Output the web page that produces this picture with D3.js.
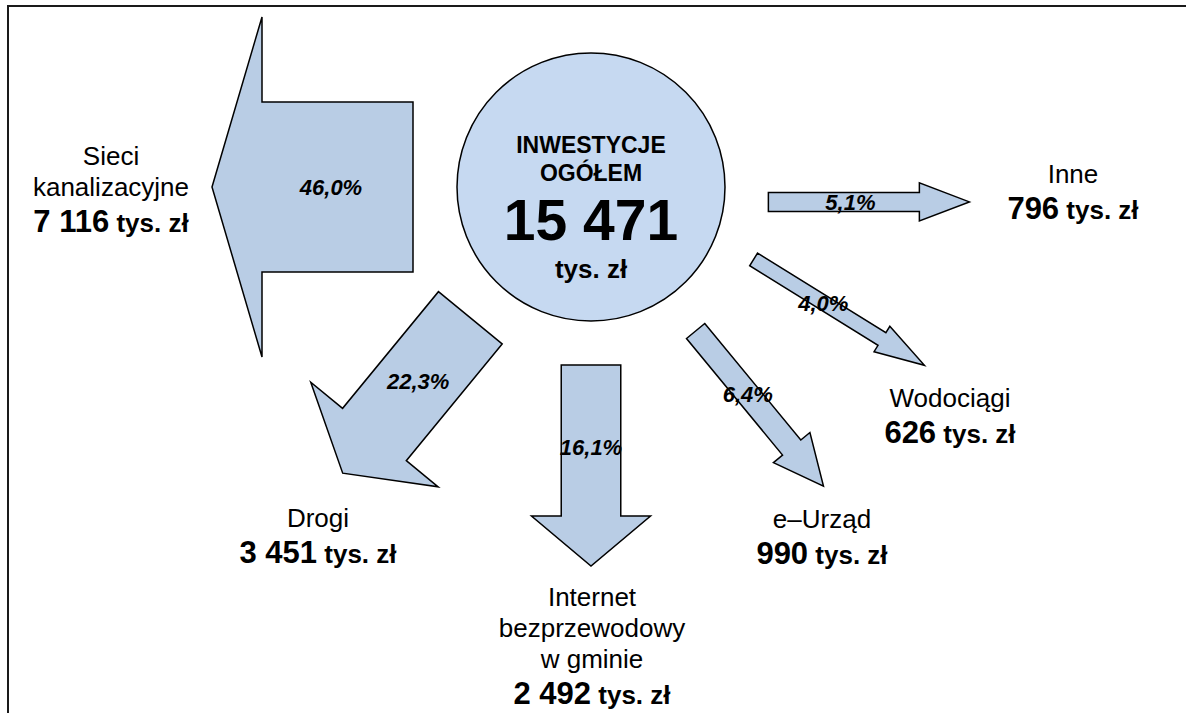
<!DOCTYPE html>
<html lang="pl">
<head>
<meta charset="utf-8">
<script src="https://cdn.jsdelivr.net/npm/d3@7"></script>
<style>
  html, body { margin:0; padding:0; background:#fff; }
  svg { display:block; font-family:"Liberation Sans", Arial, sans-serif; }
</style>
</head>
<body>
<svg id="chart" width="1186" height="713"></svg>
<script>
// dane: inwestycje w tys. zł
const categories = ["Sieci kanalizacyjne", "Drogi", "Internet bezprzewodowy w gminie", "e–Urząd", "Wodociągi", "Inne"];
const nameLines  = [["Sieci", "kanalizacyjne"], ["Drogi"], ["Internet", "bezprzewodowy", "w gminie"], ["e–Urząd"], ["Wodociągi"], ["Inne"]];
const values     = [7116, 3451, 2492, 990, 626, 796];
const totalTitle = ["INWESTYCJE", "OGÓŁEM"];
const unit       = "tys. zł";

(function(){
  const W = 1186, H = 713;
  const svg = d3.select("#chart");

  const pl = d3.formatLocale({decimal:",", thousands:" ", grouping:[3], currency:["", " zł"]});
  const fmtNum = pl.format(",d");
  const fmtPct = pl.format(".1f");

  const total = d3.sum(values);
  const shares = values.map(v => v / total * 100);

  // układ: kąt położenia ogona (stopnie), kierunek strzałki, pozycja podpisu
  const CX = 591, CY = 187, R = 134, TAIL_R = 178;
  const ARROW_LEN = 201, HEAD_LEN = 50;
  const layout = [
    { pos:180,   dir:180,   lx:111, ly:165 },
    { pos:132.7, dir:129.4, lx:318, ly:527 },
    { pos:90,    dir:90,    lx:592, ly:606 },
    { pos:54,    dir:50.5,  lx:822, ly:528 },
    { pos:24,    dir:31.8,  lx:950, ly:407 },
    { pos:4.8,   dir:0,     lx:1073, ly:183 }
  ];

  const wScale = d3.scaleLinear().domain([0, 46]).range([0, 170]);
  const rad = a => a * Math.PI / 180;

  // ramka (lewa i górna krawędź)
  svg.append("path")
    .attr("d", "M8," + H + " L8,6 L" + W + ",6")
    .attr("fill","none").attr("stroke","#1a1a1a").attr("stroke-width",2);

  function arrowPts(w){
    const L = ARROW_LEN, h = HEAD_LEN, hw = w; // grot = 2x szerokość trzonu
    return [[0,-w/2],[L-h,-w/2],[L-h,-hw],[L,0],[L-h,hw],[L-h,w/2],[0,w/2]];
  }

  const rows = categories.map((c,i) => {
    const lo = layout[i];
    const tx = CX + TAIL_R * Math.cos(rad(lo.pos));
    const ty = CY + TAIL_R * Math.sin(rad(lo.pos));
    return { name:c, lines:nameLines[i], value:values[i], share:shares[i], tx, ty, lo };
  });

  const gArrows = svg.append("g");
  gArrows.selectAll("polygon").data(rows).enter().append("polygon")
    .attr("points", d => arrowPts(wScale(d.share)).map(p => p.join(",")).join(" "))
    .attr("transform", d => "translate(" + d.tx + "," + d.ty + ") rotate(" + d.lo.dir + ")")
    .attr("fill","#b9cde5").attr("stroke","#000").attr("stroke-width",1.5)
    .attr("stroke-linejoin","miter");

  // procenty na strzałkach
  svg.append("g").selectAll("text").data(rows).enter().append("text")
    .attr("x", d => d.tx + 82 * Math.cos(rad(d.lo.dir)))
    .attr("y", d => d.ty + 82 * Math.sin(rad(d.lo.dir)) + 8)
    .attr("text-anchor","middle")
    .attr("font-size",22).attr("font-weight","bold").attr("font-style","italic")
    .attr("fill","#000")
    .text(d => fmtPct(d.share) + "%");

  // koło centralne
  svg.append("circle")
    .attr("cx",CX).attr("cy",CY).attr("r",R)
    .attr("fill","#c6d9f1").attr("stroke","#000").attr("stroke-width",1.5);

  const gc = svg.append("g").attr("text-anchor","middle").attr("font-weight","bold").attr("fill","#000");
  gc.append("text").attr("x",CX).attr("y",153).attr("font-size",23).text(totalTitle[0]);
  gc.append("text").attr("x",CX).attr("y",181).attr("font-size",23).text(totalTitle[1]);
  gc.append("text").attr("x",CX).attr("y",240).attr("font-size",57).text(fmtNum(total));
  gc.append("text").attr("x",CX).attr("y",278).attr("font-size",26).text(unit);

  // podpisy kategorii
  const gl = svg.append("g").attr("text-anchor","middle").attr("fill","#000");
  rows.forEach(d => {
    d.lines.forEach((ln, j) => {
      gl.append("text")
        .attr("x", d.lo.lx).attr("y", d.lo.ly + j * 31)
        .attr("font-size",26)
        .text(ln);
    });
    const t = gl.append("text")
      .attr("x", d.lo.lx).attr("y", d.lo.ly + (d.lines.length - 1) * 31 + 36)
      .attr("font-weight","bold");
    t.append("tspan").attr("font-size",31).text(fmtNum(d.value));
    t.append("tspan").attr("font-size",26).text(" " + unit);
  });
})();
</script>
</body>
</html>
